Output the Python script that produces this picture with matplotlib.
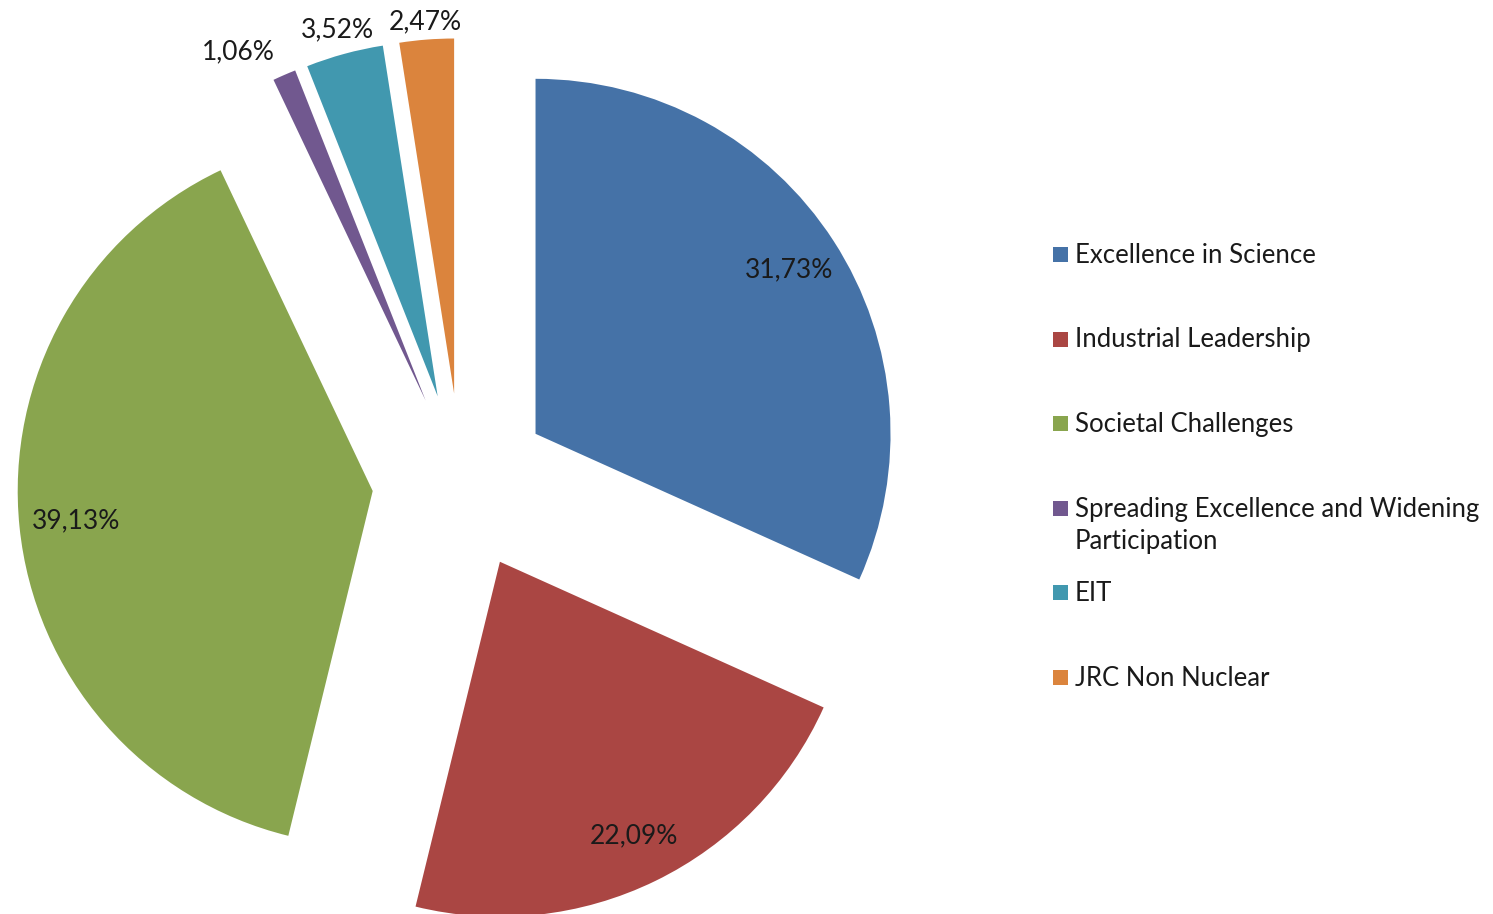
import numpy as np
import matplotlib.pyplot as plt
from matplotlib.patches import Rectangle

# ------------------------------------------------
# data
# ------------------------------------------------
categories = ["Excellence in Science", "Industrial Leadership", "Societal Challenges",
              "Spreading Excellence and Widening\nParticipation", "EIT", "JRC Non Nuclear"]
shares = [31.73, 22.09, 39.13, 1.06, 3.52, 2.47]
colors = ["#4572A7", "#AA4643", "#89A54E", "#71588F", "#4198AF", "#DB843D"]

# label distance from (exploded) wedge center, in radii, and alignment
label_dist = [0.85, 0.86, 0.84, 1.07, 1.07, 1.05]
label_ha = ['center', 'center', 'center', 'right', 'center', 'center']

plt.rcParams['font.family'] = ['Lato', 'DejaVu Sans']

W, H = 1493, 914
fig = plt.figure(figsize=(W / 100, H / 100), dpi=100)
ax = fig.add_axes([0, 0, 1, 1])

R = 355
# explode in matplotlib is an absolute offset (data units), so scale by radius
wedges, _ = ax.pie(shares, colors=colors, explode=[0.25 * R] * len(shares),
                   startangle=90, counterclock=False, radius=R,
                   center=(461, H - 482), frame=True,
                   wedgeprops=dict(linewidth=0))
ax.set_xlim(0, W)
ax.set_ylim(0, H)
ax.axis('off')

# data labels
for w, v, d, ha in zip(wedges, shares, label_dist, label_ha):
    mid = np.deg2rad((w.theta1 + w.theta2) / 2)
    cx, cy = w.center
    x = cx + d * R * np.cos(mid)
    y = cy + d * R * np.sin(mid)
    ax.text(x, y, f"{v:.2f}%".replace('.', ','), ha=ha, va='center',
            fontsize=19, color='#1a1a1a')

# legend (Excel style, marker aligned with first line)
y0, step = H - 254, 84.5
for i, (name, c) in enumerate(zip(categories, colors)):
    y = y0 - i * step
    fig.patches.append(Rectangle((1053 / W, (y - 8) / H), 15 / W, 15 / H,
                                 transform=fig.transFigure, facecolor=c, edgecolor='none'))
    fig.text(1075 / W, (y + 11) / H, name, ha='left', va='top', fontsize=18.5,
             color='#1a1a1a', linespacing=1.4)

fig.savefig("out.png", dpi=100)
